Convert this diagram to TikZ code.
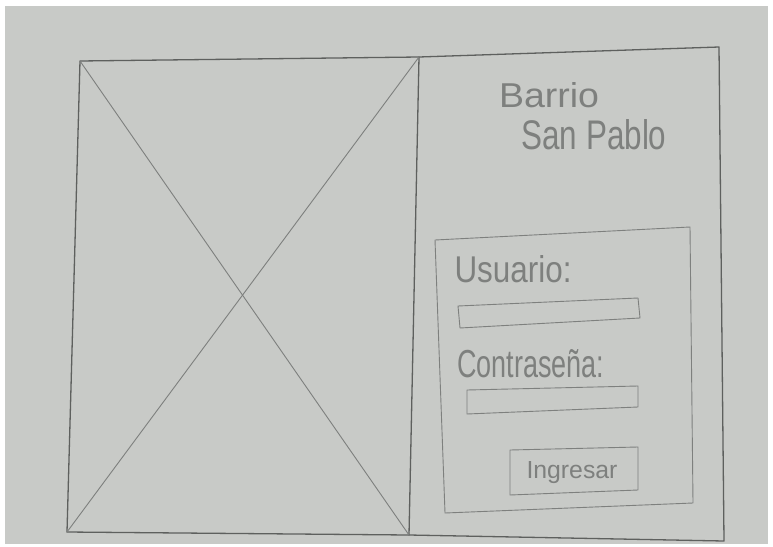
\documentclass[tikz,border=0pt]{standalone}
\usepackage{fontspec}
\setmainfont{Liberation Sans}
\definecolor{paper}{HTML}{C8CAC7}
\definecolor{pencil}{HTML}{5E605E}
\definecolor{lightpencil}{HTML}{7E807E}
\begin{document}
\begin{tikzpicture}[x=1pt,y=-1pt,
  pen/.style={draw=pencil, line width=1.3pt, line join=round, line cap=round},
  thinpen/.style={draw=lightpencil, line width=0.9pt, line join=round, line cap=round},
  hand/.style={text=lightpencil, inner sep=0pt, anchor=center}]
\useasboundingbox (0,0) rectangle (773,546);
\fill[white] (0,0) rectangle (773,546);
\fill[paper] (5,6) rectangle (768,544);
% named corner coordinates
\coordinate (tl) at (80,61);
\coordinate (tm) at (419,57);
\coordinate (tr) at (719,47);
\coordinate (br) at (724,541);
\coordinate (bm) at (409,535);
\coordinate (bl) at (67,532);
% outer frame and divider
\draw[pen] (tl) -- (tm) -- (tr) -- (br) -- (bm) -- (bl) -- cycle;
\draw[pen] (tm) -- (bm);
% image placeholder cross
\draw[thinpen] (tl) -- (bm);
\draw[thinpen] (tm) -- (bl);
% login panel
\draw[thinpen] (435,240) -- (690,227) -- (693,503) -- (445,513) -- cycle;
% input fields
\draw[thinpen] (458,306) -- (638,298) -- (640,318) -- (460,328) -- cycle;
\draw[thinpen] (467,390) -- (638,386) -- (638,407) -- (467,414) -- cycle;
% button
\draw[thinpen] (510,450) -- (638,447) -- (638,490) -- (510,495) -- cycle;
% texts
\node[hand] (barrio) at (549,95) {\resizebox{100pt}{25pt}{Barrio}};
\node[hand] (sanpablo) at (594,135) {\resizebox{145pt}{30pt}{San Pablo}};
\node[hand] (usuario) at (513,269) {\resizebox{117pt}{27pt}{Usuario:}};
\node[hand] (contra) at (531,364) {\resizebox{147pt}{28pt}{Contraseña:}};
\node[hand] (ingresar) at (572,473) {\resizebox{91pt}{17pt}{Ingresar}};
\end{tikzpicture}
\end{document}
